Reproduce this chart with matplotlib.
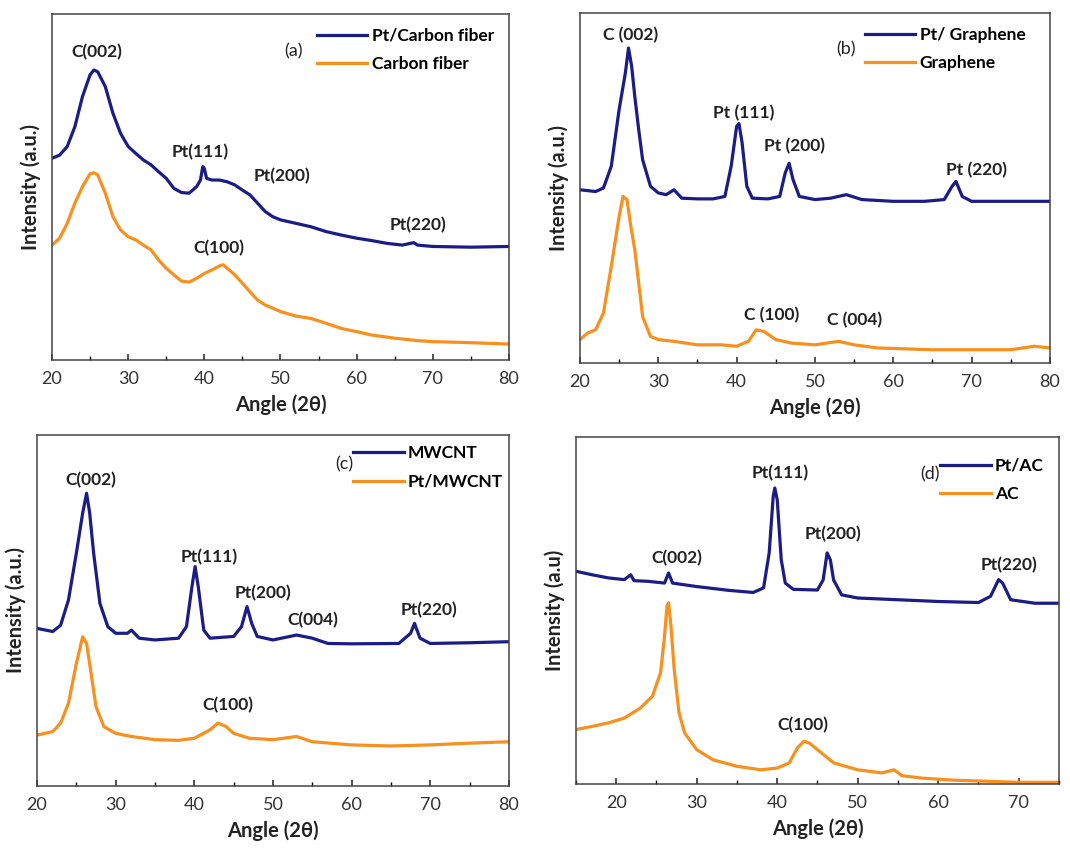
import matplotlib
matplotlib.use('Agg')
import matplotlib.pyplot as plt
from matplotlib.ticker import MultipleLocator

plt.rcParams['font.family'] = ['Lato', 'DejaVu Sans']

BLUE = '#1c1c86'
ORANGE = '#f7901e'

# ---- (a) carbon fiber ----
a_x_pt = [20, 21, 22, 23, 24, 25, 25.5, 26, 27, 28, 29, 30, 31, 32, 33, 34, 35, 36, 37, 38, 39, 39.5,
          39.8, 40, 40.3, 41, 42, 43, 44, 45, 46, 47, 48, 49, 50, 52, 54, 56, 58, 60, 62, 64, 66, 67.5,
          68, 70, 75, 80]
a_y_pt = [58.3, 59.2, 61.7, 67.4, 76.1, 82.4, 83.8, 83.3, 79.0, 71.3, 65.5, 61.7, 59.7, 57.8, 56.4, 54.4,
          52.5, 49.6, 48.4, 48.2, 50.1, 52.0, 55.9, 55.4, 52.5, 52.0, 52.0, 51.5, 50.6, 49.1, 47.7, 45.3,
          42.9, 41.4, 40.5, 39.5, 38.5, 37.1, 36.1, 35.2, 34.5, 33.7, 33.2, 33.9, 33.2, 32.8, 32.6, 32.8]
a_x_c = [20, 21, 22, 23, 24, 25, 25.5, 26, 27, 28, 29, 30, 31, 32, 33, 34, 35, 36, 37, 38, 39, 40, 41,
         42, 42.5, 43, 44, 45, 46, 47, 48, 50, 52, 54, 56, 58, 60, 62, 65, 68, 70, 75, 80]
a_y_c = [33.2, 35.2, 39.5, 45.3, 50.1, 53.8, 54.1, 53.5, 48.2, 41.4, 37.6, 35.6, 34.7, 33.2, 31.8, 28.9,
         26.5, 24.6, 22.8, 22.5, 23.6, 25.0, 26.0, 27.2, 27.5, 26.5, 24.6, 22.2, 19.7, 17.3, 15.9, 14.0,
         12.7, 12.0, 10.6, 9.1, 8.2, 7.2, 6.3, 5.6, 5.3, 5.0, 4.6]

# ---- (b) graphene ----
b_x_pt = [20, 22, 23, 24, 25, 25.8, 26.2, 26.6, 27, 27.5, 28, 29, 30, 31, 32, 33, 35, 37, 38.5, 39.3,
          40, 40.3, 40.7, 41.3, 42, 44, 45.5, 46.2, 46.7, 47.2, 48, 50, 52, 54, 56, 60, 64, 66.5, 67.5,
          68, 68.8, 70, 75, 80]
b_y_pt = [49.5, 49.0, 50.0, 56.2, 72.4, 82.9, 90.0, 84.8, 76.2, 66.7, 58.1, 50.5, 48.6, 48.1, 49.5, 47.1,
          46.9, 46.9, 47.6, 56.2, 67.6, 68.4, 62.9, 50.5, 47.1, 46.9, 47.6, 54.3, 57.1, 52.4, 47.6, 46.7,
          47.1, 48.1, 46.7, 46.2, 46.2, 46.7, 50.5, 51.9, 47.6, 46.2, 46.2, 46.2]
b_x_g = [20, 21, 22, 23, 24, 25, 25.5, 26, 26.5, 27, 27.5, 28, 29, 30, 32, 35, 38, 40, 41.5, 42.5, 43.5,
         45, 47, 50, 53, 55, 58, 65, 75, 78, 80]
b_y_g = [6.7, 8.6, 9.5, 14.3, 27.6, 41.9, 47.6, 46.7, 39.0, 32.4, 22.9, 13.3, 7.6, 6.7, 6.2, 5.2, 5.2,
         4.8, 6.2, 9.5, 9.0, 6.7, 5.7, 5.2, 6.2, 5.2, 4.3, 3.8, 3.8, 4.8, 4.3]

# ---- (c) MWCNT ----
c_x_1 = [20, 22, 23, 24, 25, 25.8, 26.3, 26.7, 27.2, 28, 29, 30, 31.5, 32, 33, 35, 38, 39, 39.7, 40.1,
         40.5, 41.2, 42, 45, 46, 46.7, 47.3, 48, 50, 53, 55, 57, 60, 66, 67.5, 68, 68.7, 70, 75, 80]
c_y_1 = [44.9, 44.0, 45.8, 53.0, 66.3, 77.7, 83.4, 77.7, 66.3, 52.0, 45.4, 43.5, 43.5, 44.4, 42.1, 41.6,
         42.1, 45.4, 56.8, 62.5, 56.8, 44.4, 42.1, 42.6, 45.4, 51.1, 46.3, 42.6, 41.6, 43.0, 42.1, 40.6,
         40.5, 40.6, 43.5, 46.3, 42.1, 40.6, 40.8, 41.1]
c_x_2 = [20, 22, 23, 24, 25, 25.8, 26.3, 27, 27.5, 28.5, 30, 32, 35, 38, 40, 42, 43, 44, 45, 47, 50, 53,
         55, 60, 65, 70, 75, 80]
c_y_2 = [14.5, 15.5, 17.9, 23.6, 34.9, 42.5, 40.6, 30.2, 22.6, 16.9, 15.0, 14.1, 13.2, 13.0, 13.6, 16.0,
         17.9, 17.0, 15.0, 13.6, 13.2, 14.1, 12.6, 11.7, 11.4, 11.7, 12.2, 12.6]

# ---- (d) activated carbon ----
d_x_pt = [15, 17, 19, 21, 21.8, 22.2, 24, 26, 26.5, 27, 30, 34, 37, 38.3, 39, 39.5, 39.7, 40, 40.5, 41,
          42, 45, 45.7, 46.2, 46.6, 47, 48, 50, 55, 60, 65, 66.5, 67.5, 68, 69, 72, 75]
d_y_pt = [61.3, 60.3, 59.4, 58.9, 60.3, 58.6, 58.4, 57.9, 60.8, 57.9, 56.9, 55.8, 55.2, 56.5, 66.6, 82.9,
          85.3, 81.9, 64.6, 57.9, 56.1, 55.9, 58.8, 66.6, 64.6, 58.8, 54.5, 53.6, 53.1, 52.6, 52.3, 54.1,
          58.9, 57.9, 53.1, 52.1, 52.1]
d_x_ac = [15, 17, 19, 21, 23, 24.5, 25.5, 26, 26.3, 26.5, 26.8, 27.2, 27.8, 28.5, 30, 32, 35, 38, 40,
          41.5, 42.5, 43.3, 44, 45, 47, 50, 53, 54.5, 55.5, 58, 62, 70, 75]
d_y_ac = [15.7, 16.6, 17.6, 19.0, 21.9, 25.3, 32.0, 42.6, 51.2, 52.2, 45.5, 33.0, 20.5, 14.7, 9.9, 7.0,
          5.1, 4.1, 4.6, 6.1, 10.4, 12.3, 11.8, 9.9, 6.1, 4.1, 3.2, 4.1, 2.4, 1.7, 1.1, 0.5, 0.5]

fig = plt.figure(figsize=(10.7, 8.51), dpi=100)


def style_axis(ax, xlo, xhi, ylabel):
    ax.set_xlim(xlo, xhi)
    ax.set_ylim(0, 100)
    ax.set_yticks([])
    ax.xaxis.set_major_locator(MultipleLocator(10))
    ax.xaxis.set_minor_locator(MultipleLocator(5))
    ax.tick_params(axis='x', which='major', direction='in', length=4, width=1.2,
                   labelsize=13, pad=8, colors='#333333')
    ax.tick_params(axis='x', which='minor', direction='in', length=3, width=1.0)
    for s in ax.spines.values():
        s.set_color('#444444')
        s.set_linewidth(1.1)
    ax.set_xlabel('Angle (2θ)', fontsize=14.5, fontweight='bold', labelpad=5, color='#222222')
    ax.set_ylabel(ylabel, fontsize=14.5, fontweight='bold', labelpad=8, color='#222222')


def annotate(ax, notes):
    for txt, x, y in notes:
        ax.text(x, y, txt, ha='center', va='center', fontsize=12.5, fontweight='bold', color='#222222')


def legend(ax, x_anchor, y_anchor):
    ax.legend(loc='upper right', bbox_to_anchor=(x_anchor, y_anchor), frameon=False,
              prop={'weight': 'bold', 'size': 12.5}, handlelength=2.9, handletextpad=0.25,
              labelspacing=0.72, borderaxespad=0.2)


# (a)
ax = fig.add_axes([0.0486, 0.577, 0.427, 0.4066])
ax.plot(a_x_pt, a_y_pt, color=BLUE, lw=2.3, label='Pt/Carbon fiber')
ax.plot(a_x_c, a_y_c, color=ORANGE, lw=2.3, label='Carbon fiber')
style_axis(ax, 20, 80, 'Intensity (a.u.)')
legend(ax, 0.99, 0.99)
ax.text(51.7, 89.1, '(a)', ha='center', va='center', fontsize=13, color='#222222')
annotate(ax, [('C(002)', 25.9, 89.1), ('Pt(111)', 39.4, 60.2), ('Pt(200)', 50.2, 53.0),
              ('Pt(220)', 68.1, 39.0), ('C(100)', 41.9, 32.3)])

# (b)
ax = fig.add_axes([0.542, 0.5734, 0.4393, 0.4113])
ax.plot(b_x_pt, b_y_pt, color=BLUE, lw=2.3, label='Pt/ Graphene')
ax.plot(b_x_g, b_y_g, color=ORANGE, lw=2.3, label='Graphene')
style_axis(ax, 20, 80, 'Intensity (a.u.)')
legend(ax, 0.97, 0.99)
ax.text(54.0, 89.5, '(b)', ha='center', va='center', fontsize=13, color='#222222')
annotate(ax, [('C (002)', 26.4, 93.8), ('Pt (111)', 40.9, 71.4), ('Pt (200)', 47.4, 61.9),
              ('Pt (220)', 70.6, 55.2), ('C (100)', 44.5, 13.8), ('C (004)', 55.1, 12.4)])

# (c)
ax = fig.add_axes([0.0346, 0.0764, 0.441, 0.4125])
ax.plot(c_x_1, c_y_1, color=BLUE, lw=2.3, label='MWCNT')
ax.plot(c_x_2, c_y_2, color=ORANGE, lw=2.3, label='Pt/MWCNT')
style_axis(ax, 20, 80, 'Intensity (a.u.)')
legend(ax, 1.01, 1.0)
ax.text(59.1, 91.5, '(c)', ha='center', va='center', fontsize=13, color='#222222')
annotate(ax, [('C(002)', 26.9, 87.2), ('Pt(111)', 41.9, 65.3), ('Pt(200)', 48.7, 54.9),
              ('C(004)', 55.1, 47.3), ('Pt(220)', 69.9, 50.1), ('C(100)', 44.3, 23.1)])

# (d)
ax = fig.add_axes([0.5383, 0.0787, 0.4514, 0.4078])
ax.plot(d_x_pt, d_y_pt, color=BLUE, lw=2.3, label='Pt/AC')
ax.plot(d_x_ac, d_y_ac, color=ORANGE, lw=2.3, label='AC')
style_axis(ax, 15, 75, 'Intensity (a.u)')
legend(ax, 0.99, 0.97)
ax.text(59.0, 89.1, '(d)', ha='center', va='center', fontsize=13, color='#222222')
annotate(ax, [('Pt(111)', 40.4, 89.6), ('Pt(200)', 46.9, 71.9), ('C(002)', 27.5, 65.1),
              ('Pt(220)', 68.8, 63.2), ('C(100)', 43.2, 17.1)])

fig.savefig('out.png', dpi=100)
